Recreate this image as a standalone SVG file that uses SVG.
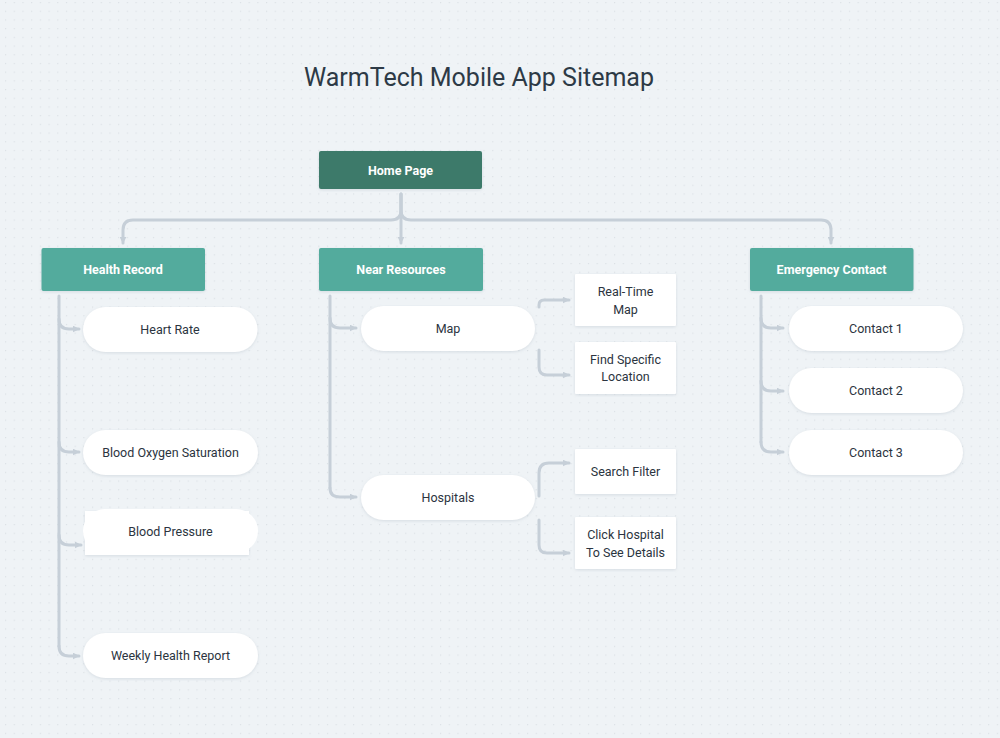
<svg xmlns="http://www.w3.org/2000/svg" width="1000" height="738" viewBox="0 0 1000 738">
<defs>
<pattern id="dots" x="5" y="2" width="8.7" height="8.7" patternUnits="userSpaceOnUse">
<rect x="0" y="0" width="1.2" height="1.2" fill="#dbe0e5"/>
</pattern>
<filter id="sh" x="-10%" y="-20%" width="120%" height="150%">
<feDropShadow dx="0" dy="1" stdDeviation="1.5" flood-color="#8a99a8" flood-opacity="0.25"/>
</filter>
<marker id="arr" viewBox="0 0 10 10" refX="9" refY="5" markerWidth="7" markerHeight="7" markerUnits="userSpaceOnUse" orient="auto">
<path d="M0,0 L10,5 L0,10 z" fill="#c6cfd8"/>
</marker>
<style>
.bg{fill:#eff3f6}
.con{fill:none;stroke:#c6cfd8;stroke-width:3;stroke-linecap:round;stroke-linejoin:round}
.top{fill:#3d7a6a}
.sec{fill:#52ab9d}
.pill{fill:#ffffff}
.box{fill:#ffffff}
.tw{font-family:Roboto,"Noto Sans",sans-serif;font-weight:bold;font-size:12.5px;fill:#ffffff;text-anchor:middle;dominant-baseline:central}
.tc{font-family:Roboto,"Noto Sans",sans-serif;font-size:12.5px;fill:#2b3440;text-anchor:middle;dominant-baseline:central}
.title{font-family:Roboto,"Noto Sans",sans-serif;font-size:25px;fill:#2d3a46;text-anchor:middle;dominant-baseline:central}
</style>
</defs>
<rect class="bg" x="0" y="0" width="1000" height="738"/>
<rect fill="url(#dots)" x="0" y="0" width="1000" height="738"/>
<text class="title" x="479" y="77">WarmTech Mobile App Sitemap</text>

<g id="connectors">
<path class="con" d="M401,194 V243" marker-end="url(#arr)"/>
<path class="con" d="M401,194 V210 Q401,220 391,220 H133 Q123,220 123,230 V243" marker-end="url(#arr)"/>
<path class="con" d="M401,194 V210 Q401,220 411,220 H821 Q831,220 831,230 V243" marker-end="url(#arr)"/>

<path class="con" d="M59,296 V646"/>
<path class="con" d="M59,319 Q59,329 69,329 H79" marker-end="url(#arr)"/>
<path class="con" d="M59,442 Q59,452 69,452 H79" marker-end="url(#arr)"/>
<path class="con" d="M59,535 Q59,545 69,545 H81" marker-end="url(#arr)"/>
<path class="con" d="M59,646 Q59,656 69,656 H79" marker-end="url(#arr)"/>

<path class="con" d="M330,296 V488"/>
<path class="con" d="M330,318 Q330,328 340,328 H356" marker-end="url(#arr)"/>
<path class="con" d="M330,488 Q330,497 340,497 H356" marker-end="url(#arr)"/>

<path class="con" d="M539,307 V305 Q539,300 544,300 H569" marker-end="url(#arr)"/>
<path class="con" d="M539,350 V367 Q539,375 547,375 H569" marker-end="url(#arr)"/>
<path class="con" d="M539,496 V473 Q539,463 549,463 H569" marker-end="url(#arr)"/>
<path class="con" d="M539,520 V545 Q539,553 547,553 H569" marker-end="url(#arr)"/>

<path class="con" d="M761,296 V442"/>
<path class="con" d="M761,318 Q761,328 771,328 H783" marker-end="url(#arr)"/>
<path class="con" d="M761,381 Q761,391 771,391 H783" marker-end="url(#arr)"/>
<path class="con" d="M761,442 Q761,452 771,452 H783" marker-end="url(#arr)"/>
</g>

<g id="home-page">
<rect class="top" x="319" y="151" width="163" height="38" rx="2" filter="url(#sh)"/>
<text class="tw" x="400.5" y="170">Home Page</text>
</g>

<g id="health-record">
<rect class="sec" x="41.5" y="248" width="163.5" height="43" rx="2" filter="url(#sh)"/>
<text class="tw" x="123" y="269.5">Health Record</text>
</g>
<g id="near-resources">
<rect class="sec" x="319" y="248" width="164" height="43" rx="2" filter="url(#sh)"/>
<text class="tw" x="401" y="269.5">Near Resources</text>
</g>
<g id="emergency-contact">
<rect class="sec" x="750" y="248" width="163.5" height="43" rx="2" filter="url(#sh)"/>
<text class="tw" x="831.5" y="269.5">Emergency Contact</text>
</g>

<g id="heart-rate">
<rect class="pill" x="83" y="307" width="174.5" height="45" rx="22.5" filter="url(#sh)"/>
<text class="tc" x="170" y="329.5">Heart Rate</text>
</g>
<g id="blood-oxygen">
<rect class="pill" x="83" y="430" width="175" height="45" rx="22.5" filter="url(#sh)"/>
<text class="tc" x="170.5" y="452.5">Blood Oxygen Saturation</text>
</g>
<g id="blood-pressure">
<rect class="box" x="85" y="511" width="164" height="44" filter="url(#sh)"/>
<rect class="pill" x="83" y="509" width="175" height="44" rx="22"/>
<text class="tc" x="170.5" y="531.5">Blood Pressure</text>
</g>
<g id="weekly-report">
<rect class="pill" x="83" y="633" width="175" height="45" rx="22.5" filter="url(#sh)"/>
<text class="tc" x="170.5" y="655.5">Weekly Health Report</text>
</g>

<g id="map">
<rect class="pill" x="361" y="306" width="174" height="45" rx="22.5" filter="url(#sh)"/>
<text class="tc" x="448" y="328.5">Map</text>
</g>
<g id="hospitals">
<rect class="pill" x="361" y="475" width="174" height="45" rx="22.5" filter="url(#sh)"/>
<text class="tc" x="448" y="497.5">Hospitals</text>
</g>

<g id="real-time-map">
<rect class="box" x="575" y="274" width="101" height="52" rx="1" filter="url(#sh)"/>
<text class="tc" x="625.5" y="291.5">Real-Time</text>
<text class="tc" x="625.5" y="309">Map</text>
</g>
<g id="find-location">
<rect class="box" x="575" y="342" width="101" height="52" rx="1" filter="url(#sh)"/>
<text class="tc" x="625.5" y="359">Find Specific</text>
<text class="tc" x="625.5" y="376.5">Location</text>
</g>
<g id="search-filter">
<rect class="box" x="575" y="449" width="101" height="45" rx="1" filter="url(#sh)"/>
<text class="tc" x="625.5" y="471.5">Search Filter</text>
</g>
<g id="click-hospital">
<rect class="box" x="575" y="517" width="101" height="52" rx="1" filter="url(#sh)"/>
<text class="tc" x="625.5" y="534.5">Click Hospital</text>
<text class="tc" x="625.5" y="552">To See Details</text>
</g>

<g id="contact-1">
<rect class="pill" x="789" y="306" width="174" height="45" rx="22.5" filter="url(#sh)"/>
<text class="tc" x="876" y="328.5">Contact 1</text>
</g>
<g id="contact-2">
<rect class="pill" x="789" y="368" width="174" height="45" rx="22.5" filter="url(#sh)"/>
<text class="tc" x="876" y="390.5">Contact 2</text>
</g>
<g id="contact-3">
<rect class="pill" x="789" y="430" width="174" height="45" rx="22.5" filter="url(#sh)"/>
<text class="tc" x="876" y="452.5">Contact 3</text>
</g>
</svg>
